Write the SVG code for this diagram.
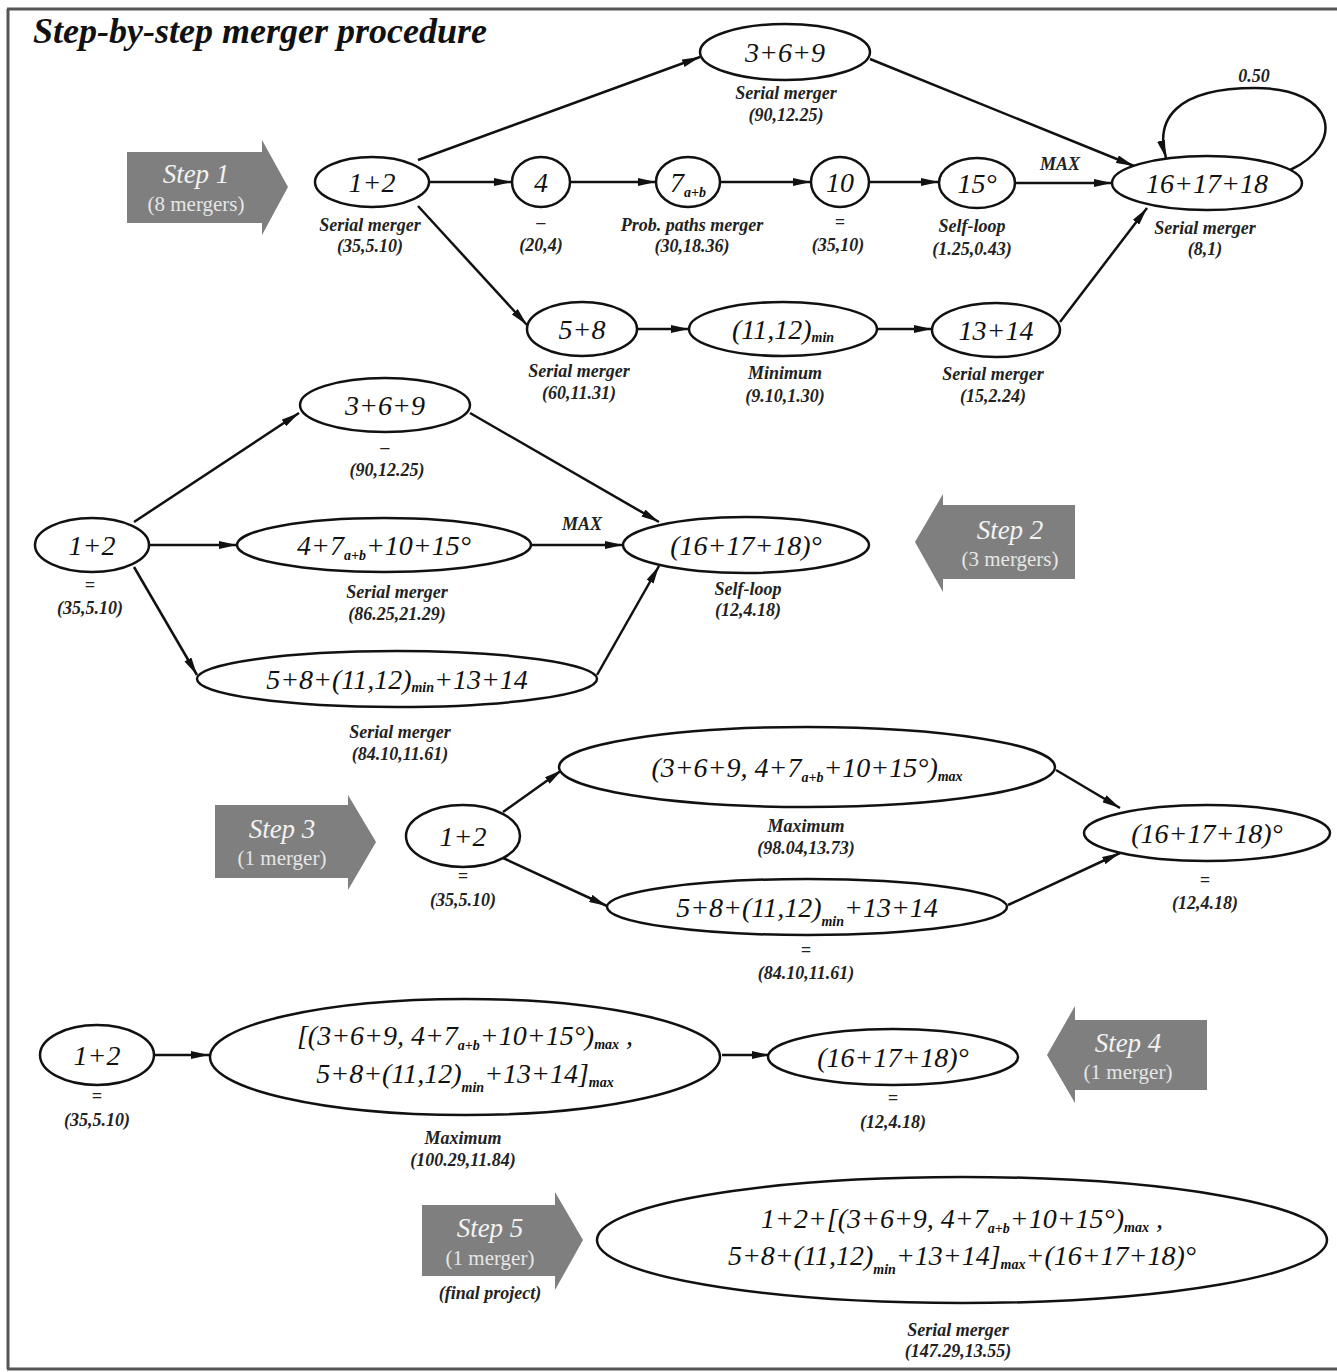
<svg xmlns="http://www.w3.org/2000/svg" width="1337" height="1372" viewBox="0 0 1337 1372">
<defs>
<marker id="ah" viewBox="0 0 18 8" refX="18" refY="4" markerWidth="18" markerHeight="8" markerUnits="userSpaceOnUse" orient="auto"><path d="M0,0 L18,4 L0,8 z" fill="#111"/></marker>
<style>
.nd{fill:#fff;stroke:#111;stroke-width:2.5}
.nt{font-family:"Liberation Serif",serif;font-style:italic;font-size:28px;fill:#111;text-anchor:middle}
.sb{font-size:14px;font-weight:bold}
.lb{font-family:"Liberation Serif",serif;font-style:italic;font-weight:bold;font-size:18px;fill:#222;text-anchor:middle}
.ed{fill:none;stroke:#111;stroke-width:2.5;marker-end:url(#ah)}
.st{fill:#7f7f7f}
.s1{font-family:"Liberation Serif",serif;font-style:italic;font-size:27px;fill:#f2f2f2;text-anchor:middle}
.s2{font-family:"Liberation Serif",serif;font-size:21px;fill:#e6e6e6;text-anchor:middle}
</style>
</defs>
<rect width="1337" height="1372" fill="#fff"/>
<g id="frame" stroke="#555" stroke-width="3" fill="none">
<line x1="7" y1="9" x2="1337" y2="9"/>
<line x1="8" y1="9" x2="8" y2="1369"/>
<line x1="7" y1="1369" x2="1337" y2="1369"/>
</g>
<text x="33" y="43" font-family="'Liberation Serif',serif" font-style="italic" font-weight="bold" font-size="36" fill="#111">Step-by-step merger procedure</text>

<g id="connectors">
<line class="ed" x1="418" y1="160" x2="700" y2="57"/>
<line class="ed" x1="870" y1="59" x2="1134" y2="166"/>
<line class="ed" x1="430" y1="182" x2="512" y2="182"/>
<line class="ed" x1="570" y1="182" x2="656" y2="182"/>
<line class="ed" x1="720" y1="182" x2="811" y2="182"/>
<line class="ed" x1="869" y1="182" x2="939" y2="182"/>
<line class="ed" x1="1015" y1="183" x2="1112" y2="183"/>
<line class="ed" x1="418" y1="206" x2="527" y2="325"/>
<line class="ed" x1="637" y1="329" x2="689" y2="329"/>
<line class="ed" x1="877" y1="329" x2="932" y2="329"/>
<line class="ed" x1="1060" y1="322" x2="1147" y2="208"/>
<path class="ed" d="M1290,170 C1345,145 1338,88 1255,88 C1175,88 1155,120 1166,158"/>
<text class="lb" x="1060" y="170">MAX</text>
<text class="lb" x="1254" y="82">0.50</text>

<line class="ed" x1="134" y1="522" x2="299" y2="413"/>
<line class="ed" x1="470" y1="413" x2="659" y2="522"/>
<line class="ed" x1="150" y1="545" x2="237" y2="545"/>
<line class="ed" x1="532" y1="545" x2="623" y2="545"/>
<line class="ed" x1="134" y1="567" x2="197" y2="675"/>
<line class="ed" x1="597" y1="675" x2="659" y2="566"/>
<text class="lb" x="582" y="530">MAX</text>

<line class="ed" x1="503" y1="812" x2="562" y2="770"/>
<line class="ed" x1="1056" y1="770" x2="1120" y2="808"/>
<line class="ed" x1="503" y1="858" x2="607" y2="906"/>
<line class="ed" x1="1008" y1="905" x2="1120" y2="853"/>

<line class="ed" x1="155" y1="1055" x2="209" y2="1055"/>
<line class="ed" x1="722" y1="1055" x2="770" y2="1055"/>
</g>

<g id="step1"><polygon class="st" points="127,152 262,152 262,140 288,187 262,235 262,223 127,223"/><text class="s1" x="196" y="183">Step 1</text><text class="s2" x="196" y="211">(8 mergers)</text></g>
<g id="step2"><polygon class="st" points="1075,505 943,505 943,494 915,542 943,592 943,579 1075,579"/><text class="s1" x="1010" y="539">Step 2</text><text class="s2" x="1010" y="566">(3 mergers)</text></g>
<g id="step3"><polygon class="st" points="215,805 348,805 348,795 376,842 348,890 348,878 215,878"/><text class="s1" x="282" y="838">Step 3</text><text class="s2" x="282" y="865">(1 merger)</text></g>
<g id="step4"><polygon class="st" points="1207,1020 1075,1020 1075,1006 1047,1055 1075,1103 1075,1090 1207,1090"/><text class="s1" x="1128" y="1052">Step 4</text><text class="s2" x="1128" y="1079">(1 merger)</text></g>
<g id="step5"><polygon class="st" points="422,1205 555,1205 555,1192 583,1240 555,1290 555,1276 422,1276"/><text class="s1" x="490" y="1237">Step 5</text><text class="s2" x="490" y="1265">(1 merger)</text><text class="lb" x="490" y="1299">(final project)</text></g>

<!-- Step 1 nodes -->
<g id="n1_12"><ellipse class="nd" cx="372" cy="182" rx="57" ry="25"/><text class="nt" x="372" y="192">1+2</text><text class="lb" x="370" y="231">Serial merger</text><text class="lb" x="370" y="252">(35,5.10)</text></g>
<g id="n1_4"><ellipse class="nd" cx="541" cy="182" rx="29" ry="25"/><text class="nt" x="541" y="192">4</text><text class="lb" x="541" y="228">–</text><text class="lb" x="541" y="251">(20,4)</text></g>
<g id="n1_7"><ellipse class="nd" cx="688" cy="182" rx="32" ry="25"/><text class="nt" x="688" y="192">7<tspan class="sb" dy="5">a+b</tspan></text><text class="lb" x="692" y="231">Prob. paths merger</text><text class="lb" x="692" y="252">(30,18.36)</text></g>
<g id="n1_10"><ellipse class="nd" cx="840" cy="182" rx="29" ry="25"/><text class="nt" x="840" y="192">10</text><text class="lb" x="840" y="228">=</text><text class="lb" x="838" y="251">(35,10)</text></g>
<g id="n1_15"><ellipse class="nd" cx="977" cy="183" rx="38" ry="25"/><text class="nt" x="977" y="193">15°</text><text class="lb" x="972" y="232">Self-loop</text><text class="lb" x="972" y="255">(1.25,0.43)</text></g>
<g id="n1_16"><ellipse class="nd" cx="1207" cy="183" rx="95" ry="27"/><text class="nt" x="1207" y="193">16+17+18</text><text class="lb" x="1205" y="234">Serial merger</text><text class="lb" x="1205" y="255">(8,1)</text></g>
<g id="n1_369"><ellipse class="nd" cx="785" cy="52" rx="85" ry="28"/><text class="nt" x="785" y="62">3+6+9</text><text class="lb" x="786" y="99">Serial merger</text><text class="lb" x="786" y="121">(90,12.25)</text></g>
<g id="n1_58"><ellipse class="nd" cx="582" cy="329" rx="55" ry="27"/><text class="nt" x="582" y="339">5+8</text><text class="lb" x="579" y="377">Serial merger</text><text class="lb" x="579" y="399">(60,11.31)</text></g>
<g id="n1_min"><ellipse class="nd" cx="783" cy="329" rx="94" ry="27"/><text class="nt" x="783" y="339">(11,12)<tspan class="sb" dy="3">min</tspan></text><text class="lb" x="785" y="379">Minimum</text><text class="lb" x="785" y="402">(9.10,1.30)</text></g>
<g id="n1_1314"><ellipse class="nd" cx="996" cy="330" rx="64" ry="27"/><text class="nt" x="996" y="340">13+14</text><text class="lb" x="993" y="380">Serial merger</text><text class="lb" x="993" y="402">(15,2.24)</text></g>

<!-- Step 2 nodes -->
<g id="n2_369"><ellipse class="nd" cx="385" cy="405" rx="85" ry="27"/><text class="nt" x="385" y="415">3+6+9</text><text class="lb" x="385" y="453">–</text><text class="lb" x="387" y="476">(90,12.25)</text></g>
<g id="n2_12"><ellipse class="nd" cx="92" cy="545" rx="57" ry="27"/><text class="nt" x="92" y="555">1+2</text><text class="lb" x="90" y="591">=</text><text class="lb" x="90" y="614">(35,5.10)</text></g>
<g id="n2_mid"><ellipse class="nd" cx="384" cy="545" rx="147" ry="27"/><text class="nt" x="384" y="555">4+7<tspan class="sb" dy="5">a+b</tspan><tspan dy="-5">+10+15°</tspan></text><text class="lb" x="397" y="598">Serial merger</text><text class="lb" x="397" y="620">(86.25,21.29)</text></g>
<g id="n2_16"><ellipse class="nd" cx="746" cy="545" rx="123" ry="28"/><text class="nt" x="746" y="555">(16+17+18)°</text><text class="lb" x="748" y="595">Self-loop</text><text class="lb" x="748" y="616">(12,4.18)</text></g>
<g id="n2_bot"><ellipse class="nd" cx="397" cy="679" rx="200" ry="28"/><text class="nt" x="397" y="689">5+8+(11,12)<tspan class="sb" dy="3">min</tspan><tspan dy="-3">+13+14</tspan></text><text class="lb" x="400" y="738">Serial merger</text><text class="lb" x="400" y="760">(84.10,11.61)</text></g>

<!-- Step 3 nodes -->
<g id="n3_12"><ellipse class="nd" cx="463" cy="836" rx="57" ry="31"/><text class="nt" x="463" y="846">1+2</text><text class="lb" x="463" y="882">=</text><text class="lb" x="463" y="906">(35,5.10)</text></g>
<g id="n3_top"><ellipse class="nd" cx="807" cy="767" rx="248" ry="40"/><text class="nt" x="807" y="777">(3+6+9, 4+7<tspan class="sb" dy="5">a+b</tspan><tspan dy="-5">+10+15°)</tspan><tspan class="sb" dy="4">max</tspan></text><text class="lb" x="806" y="832">Maximum</text><text class="lb" x="806" y="854">(98.04,13.73)</text></g>
<g id="n3_bot"><ellipse class="nd" cx="807" cy="907" rx="200" ry="28"/><text class="nt" x="807" y="917">5+8+(11,12)<tspan class="sb" dy="9">min</tspan><tspan dy="-9">+13+14</tspan></text><text class="lb" x="806" y="956">=</text><text class="lb" x="806" y="979">(84.10,11.61)</text></g>
<g id="n3_16"><ellipse class="nd" cx="1207" cy="833" rx="123" ry="28"/><text class="nt" x="1207" y="843">(16+17+18)°</text><text class="lb" x="1205" y="886">=</text><text class="lb" x="1205" y="909">(12,4.18)</text></g>

<!-- Step 4 nodes -->
<g id="n4_12"><ellipse class="nd" cx="97" cy="1055" rx="57" ry="30"/><text class="nt" x="97" y="1065">1+2</text><text class="lb" x="97" y="1102">=</text><text class="lb" x="97" y="1126">(35,5.10)</text></g>
<g id="n4_big"><ellipse class="nd" cx="465" cy="1057" rx="255" ry="58"/><text class="nt" x="465" y="1045">[(3+6+9, 4+7<tspan class="sb" dy="5">a+b</tspan><tspan dy="-5">+10+15°)</tspan><tspan class="sb" dy="4">max</tspan><tspan dy="-4"> ,</tspan></text><text class="nt" x="465" y="1083">5+8+(11,12)<tspan class="sb" dy="9">min</tspan><tspan dy="-9">+13+14]</tspan><tspan class="sb" dy="4">max</tspan></text><text class="lb" x="463" y="1144">Maximum</text><text class="lb" x="463" y="1166">(100.29,11.84)</text></g>
<g id="n4_16"><ellipse class="nd" cx="893" cy="1057" rx="125" ry="28"/><text class="nt" x="893" y="1067">(16+17+18)°</text><text class="lb" x="893" y="1104">=</text><text class="lb" x="893" y="1128">(12,4.18)</text></g>

<!-- Step 5 node -->
<g id="n5_final"><ellipse class="nd" cx="962" cy="1240" rx="365" ry="63"/><text class="nt" x="962" y="1228">1+2+[(3+6+9, 4+7<tspan class="sb" dy="5">a+b</tspan><tspan dy="-5">+10+15°)</tspan><tspan class="sb" dy="4">max</tspan><tspan dy="-4"> ,</tspan></text><text class="nt" x="962" y="1265">5+8+(11,12)<tspan class="sb" dy="9">min</tspan><tspan dy="-9">+13+14]</tspan><tspan class="sb" dy="4">max</tspan><tspan dy="-4">+(16+17+18)°</tspan></text><text class="lb" x="958" y="1336">Serial merger</text><text class="lb" x="958" y="1357">(147.29,13.55)</text></g>
</svg>
